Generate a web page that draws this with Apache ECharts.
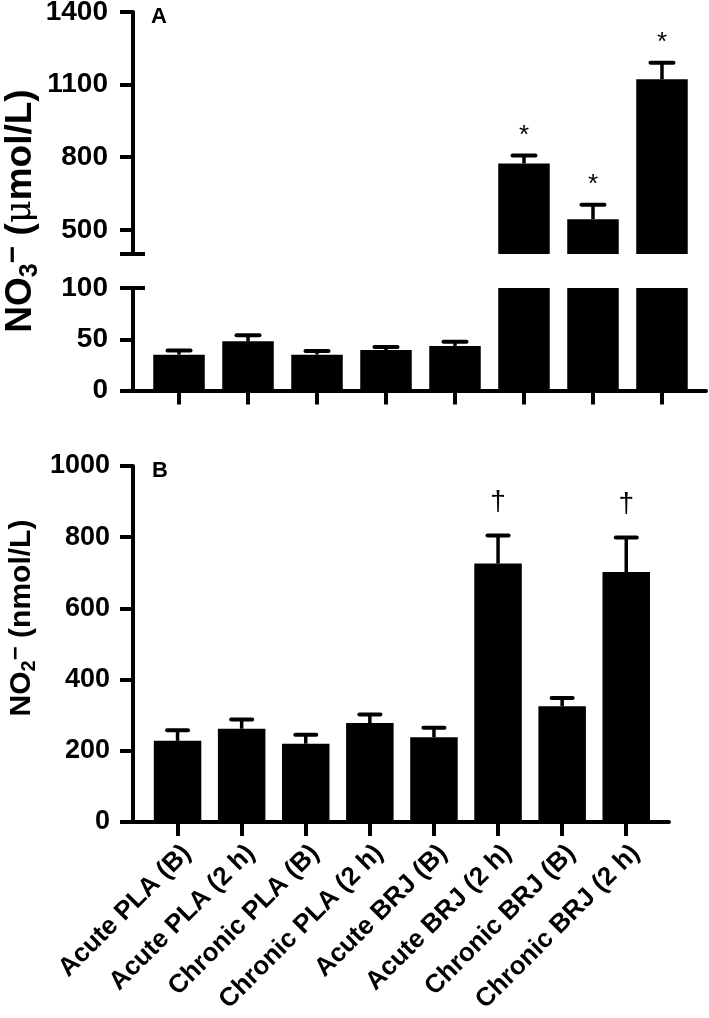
<!DOCTYPE html>
<html><head><meta charset="utf-8">
<script src="https://cdn.jsdelivr.net/npm/echarts@6/dist/echarts.min.js"></script>
<style>html,body{margin:0;padding:0;background:#fff}#c{width:709px;height:1018px}</style>
</head><body><div id="c"></div>
<script>
const categories = ['Acute PLA (B)','Acute PLA (2 h)','Chronic PLA (B)','Chronic PLA (2 h)','Acute BRJ (B)','Acute BRJ (2 h)','Chronic BRJ (B)','Chronic BRJ (2 h)'];
const nitrateMean = [35, 48, 35, 39.5, 43.5, 774, 544, 1122];
const nitrateSEM  = [4, 6, 3.5, 3, 4, 33, 59, 68];
const nitrateSig  = ['', '', '', '', '', '*', '*', '*'];
const nitriteMean = [228, 262, 220, 278, 238, 726, 325, 702];
const nitriteSEM  = [30, 26, 25, 24, 27, 79, 23, 97];
const nitriteSig  = ['', '', '', '', '', '\u2020', '', '\u2020'];
const ticksAUpper = [500, 800, 1100, 1400];
const ticksALower = [0, 50, 100];
const ticksB = [0, 200, 400, 600, 800, 1000];
const rangeAUpper = [400, 1400];
const rangeALower = [0, 100];
const rangeB = [0, 1000];

const FONT = '"Liberation Sans", Arial, sans-serif';
const catIdx = categories.map((_, i) => i);
const lineW = 4;

function xAxisDef(gridIndex, min, max, showLine, showLabels) {
  return {
    gridIndex, type: 'value', min, max,
    axisLine: { show: showLine, onZero: false, lineStyle: { color: '#000', width: lineW } },
    axisTick: { show: showLine, length: 14, lineStyle: { color: '#000', width: lineW }, customValues: catIdx },
    axisLabel: showLabels ? {
      show: true, customValues: catIdx, rotate: 45, margin: 18, verticalAlign: 'top',
      fontFamily: FONT, fontWeight: 'bold', fontSize: 26, color: '#000',
      formatter: v => categories[Math.round(v)]
    } : { show: false },
    splitLine: { show: false }
  };
}
function yAxisDef(gridIndex, range, ticks, tickVals, fontSize, margin) {
  return {
    gridIndex, type: 'value', position: 'left', min: range[0], max: range[1],
    axisLine: { show: true, onZero: false, lineStyle: { color: '#000', width: lineW } },
    axisTick: { show: true, length: 13, lineStyle: { color: '#000', width: lineW }, customValues: tickVals },
    axisLabel: { customValues: ticks, margin, fontFamily: FONT, fontWeight: 'bold', fontSize, color: '#000',
      formatter: v => String(v) },
    splitLine: { show: false }
  };
}
function innerTickAxis(gridIndex, range, val) {
  return {
    gridIndex, type: 'value', position: 'left', offset: 0, min: range[0], max: range[1],
    axisLine: { show: false, onZero: false },
    axisTick: { show: true, inside: true, length: 12, lineStyle: { color: '#000', width: lineW }, customValues: [val] },
    axisLabel: { show: false }, splitLine: { show: false }
  };
}
function barSeries(xi, yi, means, range, width) {
  return {
    type: 'bar', xAxisIndex: xi, yAxisIndex: yi, barWidth: width, clip: true,
    itemStyle: { color: '#000' },
    data: means.map((v, i) => [i, v >= range[0] ? v : '-'])
  };
}
function errSeries(xi, yi, means, sems, sigs, range, capHalf, sigFont, sigOffset) {
  return {
    type: 'custom', xAxisIndex: xi, yAxisIndex: yi, clip: false, z: 5,
    data: means.map((m, i) => [i, m, sems[i]]),
    renderItem(params, api) {
      const x = api.value(0), m = api.value(1), e = api.value(2);
      if (m < range[0] || m > range[1]) return null;
      const p0 = api.coord([x, m]);
      const p1 = api.coord([x, m + e]);
      const children = [
        { type: 'line', shape: { x1: p0[0], y1: p0[1], x2: p1[0], y2: p1[1] }, style: { stroke: '#000', lineWidth: 3.5 } },
        { type: 'line', shape: { x1: p1[0] - capHalf, y1: p1[1], x2: p1[0] + capHalf, y2: p1[1] }, style: { stroke: '#000', lineWidth: 4, lineCap: 'round' } }
      ];
      const s = sigs[params.dataIndex];
      if (s) children.push({ type: 'text', x: p1[0], y: p1[1] - sigOffset,
        style: { text: s, font: sigFont, fill: '#000', align: 'center', verticalAlign: 'middle' } });
      return { type: 'group', children };
    }
  };
}

function nameRich(size) {
  return {
    t: { fontFamily: FONT, fontWeight: 'bold', fontSize: size, fill: '#000' },
    s: { fontFamily: FONT, fontWeight: 'bold', fontSize: Math.round(size * 0.68), fill: '#000', verticalAlign: 'bottom', padding: [Math.round(size * 0.5), 0, 0, 0] },
    p: { fontFamily: FONT, fontWeight: 'bold', fontSize: Math.round(size * 0.8), fill: '#000', verticalAlign: 'top' },
    m: { fontFamily: '"DejaVu Serif", serif', fontSize: Math.round(size * 0.95), fill: '#000' }
  };
}

const option = {
  animation: false,
  backgroundColor: '#fff',
  grid: [
    { left: 133, top: 12, width: 573, height: 242, outerBoundsMode: 'none', containLabel: false },
    { left: 133, top: 288, width: 573, height: 102.5, outerBoundsMode: 'none', containLabel: false },
    { left: 133, top: 466, width: 536, height: 356, outerBoundsMode: 'none', containLabel: false }
  ],
  xAxis: [
    xAxisDef(0, -0.667, 7.638, false, false),
    xAxisDef(1, -0.667, 7.638, true, false),
    xAxisDef(2, -0.695, 7.667, true, true)
  ],
  yAxis: [
    yAxisDef(0, rangeAUpper, ticksAUpper, [rangeAUpper[0], ...ticksAUpper], 28, 25),
    yAxisDef(1, rangeALower, ticksALower, ticksALower, 28, 25),
    yAxisDef(2, rangeB, ticksB, ticksB, 27, 23),
    innerTickAxis(0, rangeAUpper, rangeAUpper[0]),
    innerTickAxis(1, rangeALower, rangeALower[1])
  ],
  series: [
    barSeries(0, 0, nitrateMean, rangeAUpper, 51.5),
    barSeries(1, 1, nitrateMean, rangeALower, 51.5),
    barSeries(2, 2, nitriteMean, rangeB, 47.5),
    errSeries(0, 0, nitrateMean, nitrateSEM, nitrateSig, rangeAUpper, 11.5, '26px ' + FONT, 20),
    errSeries(1, 1, nitrateMean, nitrateSEM, ['', '', '', '', '', '', '', ''], rangeALower, 11.5, '26px ' + FONT, 20),
    errSeries(2, 2, nitriteMean, nitriteSEM, nitriteSig, rangeB, 10.5, '28px ' + FONT, 33)
  ],
  graphic: [
    { type: 'text', x: 151, y: 6, style: { text: 'A', font: 'bold 22px ' + FONT, fill: '#000' } },
    { type: 'text', x: 152, y: 460, style: { text: 'B', font: 'bold 22px ' + FONT, fill: '#000' } },
    { type: 'text', x: 21, y: 211, rotation: Math.PI / 2,
      style: { text: '{t|NO}{s|3}{p|\u2212}{t| (}{m|\u03bc}{t|mol/L)}', rich: nameRich(37), align: 'center', verticalAlign: 'middle' } },
    { type: 'text', x: 22, y: 618, rotation: Math.PI / 2,
      style: { text: '{t|NO}{s|2}{p|\u2212}{t| (nmol/L)}', rich: nameRich(30), align: 'center', verticalAlign: 'middle' } }
  ]
};
echarts.init(document.getElementById('c'), null, { renderer: 'canvas' }).setOption(option);
</script>
</body></html>
